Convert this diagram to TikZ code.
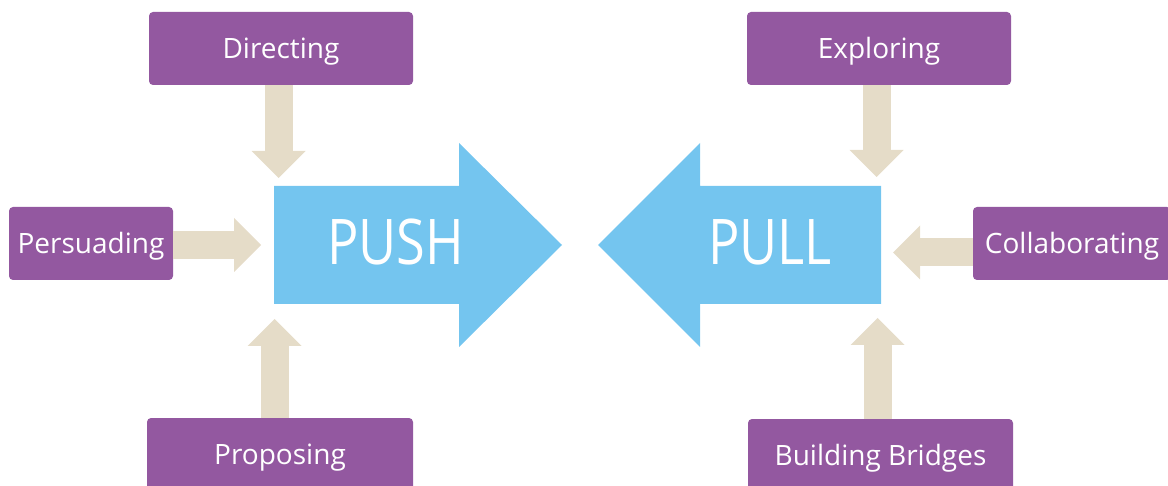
\documentclass[tikz,border=0pt]{standalone}
\usepackage{fontspec}
\setmainfont{Open Sans}
\usetikzlibrary{arrows.meta}
\definecolor{boxpurple}{RGB}{147,88,160}
\definecolor{pushblue}{RGB}{116,197,239}
\definecolor{linkbeige}{RGB}{229,220,200}
\tikzset{
  labelbox/.style={fill=boxpurple, rounded corners=4pt, text=white,
    font=\fontsize{28}{30}\selectfont, inner sep=0pt,
    text height=20pt, text depth=0pt, minimum height=73pt},
  link/.style={draw=linkbeige, line width=28pt,
    -{Triangle[length=27pt,width=54pt,line width=0pt]}},
  bigword/.style={text=white, font=\fontsize{63}{66}\selectfont,
    anchor=base, inner sep=0pt},
}
\begin{document}
\begin{tikzpicture}[x=1pt,y=-1pt]
\useasboundingbox (0,0) rectangle (1168,486);
\clip (0,0) rectangle (1168,486);

% the two large block arrows
\fill[pushblue] (274,186) -- (459,186) -- (459,143) -- (562,245)
  -- (459,347) -- (459,304) -- (274,304) -- cycle;
\fill[pushblue] (881,186) -- (700,186) -- (700,143) -- (598,245)
  -- (700,347) -- (700,304) -- (881,304) -- cycle;
\node[bigword] (push) at (395.5,265) {\scalebox{0.83}[1]{PUSH}};
\node[bigword] (pull) at (770,265) {\scalebox{0.83}[1]{PULL}};

% purple label boxes
\node[labelbox, minimum width=264pt] (dir)  at (281,48.5)   {Directing};
\node[labelbox, minimum width=164pt] (pers) at (91,243.5)   {Persuading\hspace{6pt}};
\node[labelbox, minimum width=266pt] (prop) at (280,454.5)  {Proposing};
\node[labelbox, minimum width=264pt] (expl) at (879,48.5)   {Exploring};
\node[labelbox, minimum width=198pt] (coll) at (1072,243.5) {Collaborating};
\node[labelbox, minimum width=265pt] (brid) at (880.5,455.5) {Building Bridges};

% arrow tips next to the block arrows
\coordinate (t1) at (278.5,178);
\coordinate (t2) at (261,245);
\coordinate (t3) at (274.5,319);
\coordinate (t4) at (876.5,177);
\coordinate (t5) at (893,252.5);
\coordinate (t6) at (877.5,318);

% beige connectors
\draw[link] (dir.south -| t1) -- (t1);
\draw[link] (pers.east |- t2) -- (t2);
\draw[link] (prop.north -| t3) -- (t3);
\draw[link] (expl.south -| t4) -- (t4);
\draw[link] (coll.west |- t5) -- (t5);
\draw[link] (brid.north -| t6) -- (t6);
\end{tikzpicture}
\end{document}
